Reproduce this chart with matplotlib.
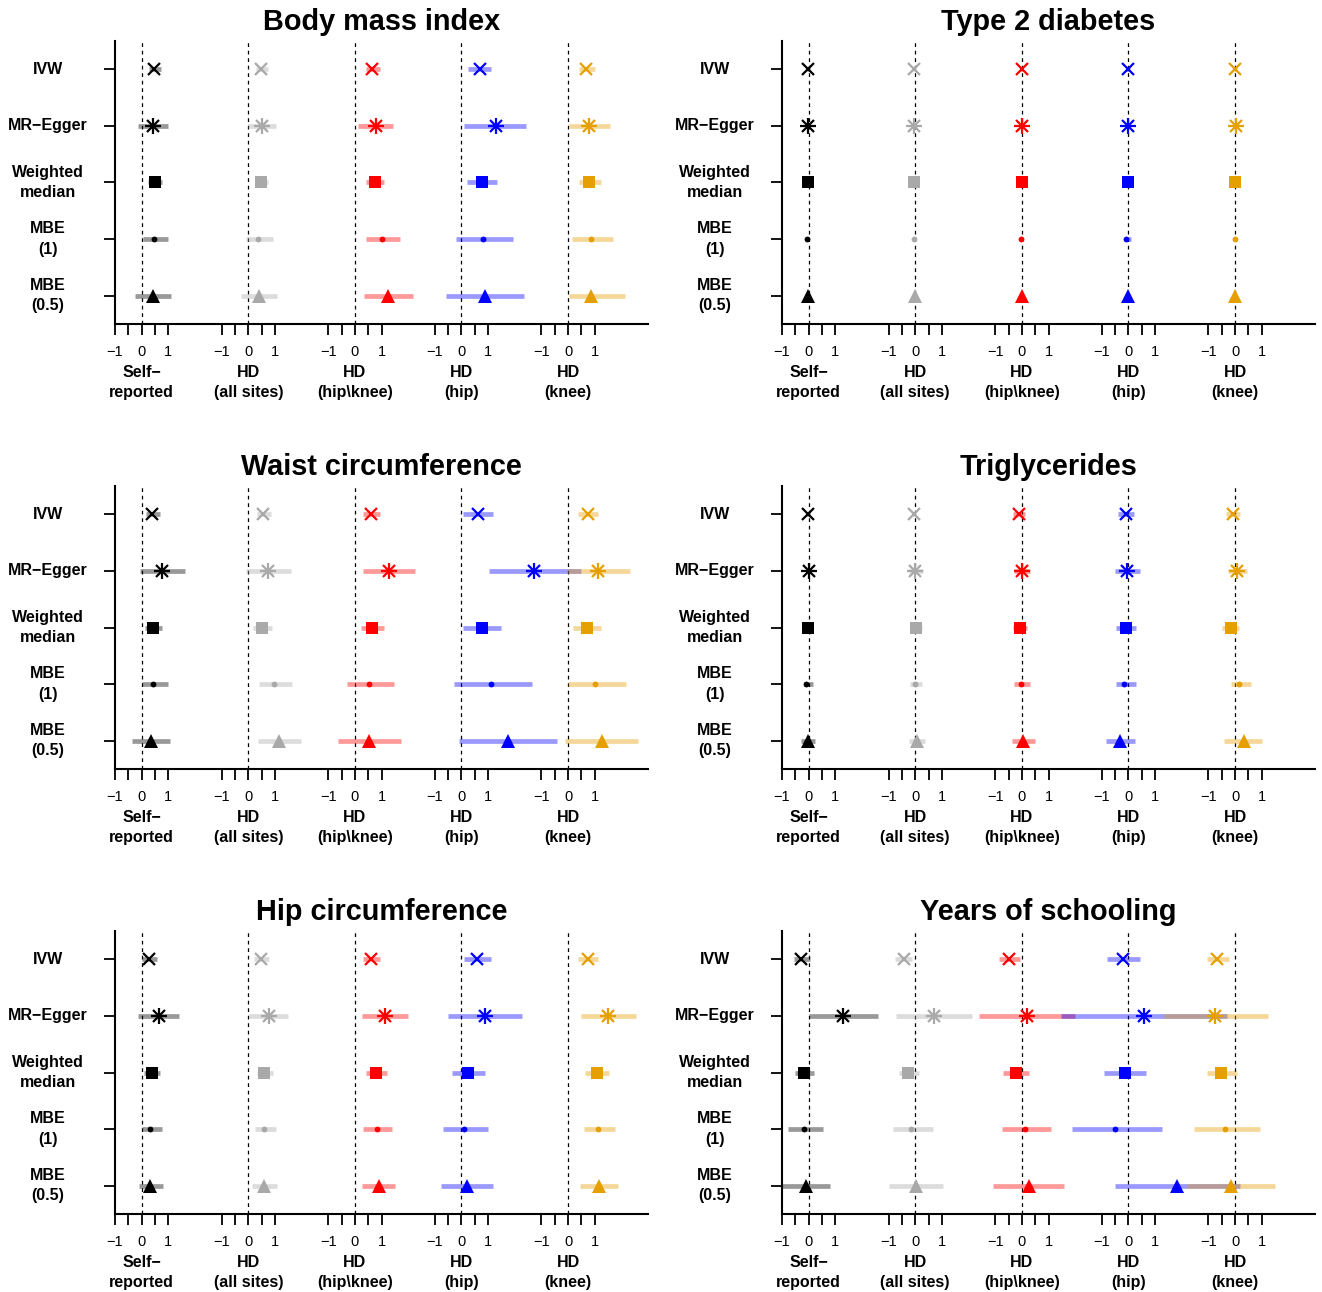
import numpy as np
import matplotlib
matplotlib.use("Agg")
import matplotlib.pyplot as plt
import matplotlib.transforms as mtransforms

plt.rcParams["font.family"] = ["Liberation Sans", "DejaVu Sans"]

methods = ["IVW", "MR\u2212Egger", "Weighted\nmedian", "MBE\n(1)", "MBE\n(0.5)"]
groups = ["Self\u2212\nreported", "HD\n(all sites)", "HD\n(hip\\knee)", "HD\n(hip)", "HD\n(knee)"]
group_colors = ["black", "darkgray", "red", "blue", "#E69F00"]

# rows = methods (IVW, MR-Egger, WM, MBE(1), MBE(0.5)); columns = groups
bmi_est = [[0.47, 0.49, 0.63, 0.69, 0.68],
           [0.43, 0.52, 0.79, 1.28, 0.80],
           [0.50, 0.47, 0.76, 0.76, 0.80],
           [0.46, 0.36, 1.00, 0.80, 0.87],
           [0.43, 0.39, 1.26, 0.88, 0.87]]
bmi_lo = [[0.27, 0.28, 0.43, 0.25, 0.41],
          [-0.13, 0.00, 0.13, 0.09, 0.05],
          [0.24, 0.24, 0.43, 0.20, 0.41],
          [0.06, -0.08, 0.41, -0.19, 0.13],
          [-0.24, -0.27, 0.35, -0.59, 0.03]]
bmi_hi = [[0.74, 0.73, 0.95, 1.12, 1.00],
          [1.00, 1.04, 1.45, 2.42, 1.58],
          [0.78, 0.73, 1.10, 1.33, 1.23],
          [0.98, 0.93, 1.71, 1.94, 1.70],
          [1.09, 1.07, 2.17, 2.33, 2.13]]

t2d_est = [[-0.02, -0.03, 0.00, -0.01, 0.00],
           [-0.03, -0.03, -0.01, -0.02, 0.02],
           [-0.02, -0.03, 0.00, -0.03, 0.01],
           [-0.06, -0.05, -0.02, -0.08, -0.02],
           [-0.02, -0.02, 0.01, -0.03, 0.01]]
t2d_lo = [[-0.08, -0.09, -0.06, -0.08, -0.06],
          [-0.10, -0.10, -0.08, -0.10, -0.06],
          [-0.07, -0.08, -0.05, -0.08, -0.05],
          [-0.10, -0.10, -0.07, -0.12, -0.07],
          [-0.08, -0.08, -0.06, -0.09, -0.06]]
t2d_hi = [[0.04, 0.03, 0.06, 0.06, 0.06],
          [0.04, 0.04, 0.06, 0.06, 0.09],
          [0.03, 0.02, 0.05, 0.02, 0.07],
          [0.00, 0.02, 0.04, 0.10, 0.05],
          [0.04, 0.04, 0.08, 0.04, 0.08]]

waist_est = [[0.40, 0.54, 0.62, 0.63, 0.76],
             [0.78, 0.75, 1.27, 2.74, 1.14],
             [0.44, 0.51, 0.64, 0.76, 0.71],
             [0.44, 0.95, 0.52, 1.12, 1.03],
             [0.36, 1.16, 0.54, 1.74, 1.27]]
waist_lo = [[0.16, 0.31, 0.29, 0.07, 0.39],
            [-0.07, -0.09, 0.29, 1.04, -0.04],
            [0.13, 0.17, 0.23, 0.07, 0.20],
            [0.00, 0.39, -0.31, -0.27, 0.00],
            [-0.35, 0.35, -0.64, -0.11, -0.11]]
waist_hi = [[0.70, 0.84, 0.95, 1.20, 1.14],
            [1.61, 1.61, 2.26, 4.48, 2.34],
            [0.78, 0.88, 1.09, 1.50, 1.23],
            [1.00, 1.65, 1.46, 2.65, 2.17],
            [1.07, 1.98, 1.73, 3.60, 2.61]]

trig_est = [[-0.04, -0.06, -0.09, -0.09, -0.09],
            [0.00, 0.00, 0.00, -0.04, 0.06],
            [-0.04, 0.04, -0.06, -0.10, -0.17],
            [-0.09, 0.00, -0.05, -0.15, 0.14],
            [-0.04, 0.06, 0.05, -0.32, 0.32]]
trig_lo = [[-0.10, -0.12, -0.32, -0.39, -0.35],
           [-0.10, -0.23, -0.30, -0.52, -0.28],
           [-0.10, -0.13, -0.32, -0.48, -0.48],
           [-0.19, -0.19, -0.30, -0.48, -0.15],
           [-0.30, -0.22, -0.36, -0.84, -0.41]]
trig_hi = [[0.05, 0.02, 0.13, 0.22, 0.17],
           [0.10, 0.28, 0.32, 0.43, 0.45],
           [0.05, 0.26, 0.19, 0.27, 0.14],
           [0.15, 0.26, 0.30, 0.27, 0.58],
           [0.23, 0.37, 0.48, 0.23, 1.03]]

hip_est = [[0.29, 0.48, 0.62, 0.58, 0.74],
           [0.64, 0.78, 1.12, 0.87, 1.50],
           [0.37, 0.60, 0.80, 0.23, 1.07],
           [0.33, 0.58, 0.82, 0.08, 1.14],
           [0.33, 0.60, 0.90, 0.20, 1.16]]
hip_lo = [[0.03, 0.20, 0.29, 0.11, 0.36],
          [-0.13, 0.04, 0.28, -0.51, 0.47],
          [0.07, 0.31, 0.43, -0.37, 0.63],
          [0.03, 0.24, 0.32, -0.71, 0.60],
          [-0.11, 0.13, 0.28, -0.76, 0.43]]
hip_hi = [[0.56, 0.78, 0.95, 1.10, 1.12],
          [1.40, 1.51, 1.99, 2.27, 2.54],
          [0.67, 0.91, 1.19, 0.87, 1.54],
          [0.76, 1.04, 1.39, 1.00, 1.77],
          [0.79, 1.07, 1.52, 1.18, 1.86]]

school_est = [[-0.28, -0.43, -0.49, -0.19, -0.67],
              [1.29, 0.71, 0.19, 0.58, -0.74],
              [-0.19, -0.26, -0.23, -0.13, -0.52],
              [-0.17, -0.15, 0.10, -0.49, -0.36],
              [-0.09, 0.03, 0.26, 1.83, -0.15]]
school_lo = [[-0.55, -0.75, -0.86, -0.81, -1.06],
             [0.03, -0.71, -1.59, -2.54, -2.67],
             [-0.52, -0.62, -0.71, -0.90, -1.06],
             [-0.77, -0.84, -0.75, -2.13, -1.55],
             [-0.99, -0.99, -1.07, -0.52, -1.81]]
school_hi = [[0.04, -0.13, -0.06, 0.45, -0.22],
             [2.61, 2.13, 2.00, 3.68, 1.23],
             [0.19, 0.15, 0.26, 0.67, 0.09],
             [0.55, 0.65, 1.10, 1.26, 0.94],
             [0.81, 1.06, 1.57, 4.19, 1.51]]

panels = [
    ("Body mass index", bmi_est, bmi_lo, bmi_hi),
    ("Type 2 diabetes", t2d_est, t2d_lo, t2d_hi),
    ("Waist circumference", waist_est, waist_lo, waist_hi),
    ("Triglycerides", trig_est, trig_lo, trig_hi),
    ("Hip circumference", hip_est, hip_lo, hip_hi),
    ("Years of schooling", school_est, school_lo, school_hi),
]

W, H = 1322, 1292
fig = plt.figure(figsize=(W / 100, H / 100), dpi=100)

col_left = [115, 782]
row_top = [41, 486, 931]
ax_w, ax_h = 533, 283

offsets = np.arange(5) * 4
row_y = [5, 4, 3, 2, 1]


def draw_marker(ax, m, x, y, color):
    if m == 0:
        ax.plot(x, y, "x", color=color, ms=9, mew=1.6, zorder=4)
    elif m == 1:
        ax.plot(x, y, "x", color=color, ms=9, mew=1.6, zorder=4)
        ax.plot(x, y, "+", color=color, ms=12, mew=1.6, zorder=4)
    elif m == 2:
        ax.plot(x, y, "s", color=color, ms=8, mew=0, zorder=4)
    elif m == 3:
        ax.plot(x, y, "o", color=color, ms=4.2, mew=0, zorder=4)
    else:
        ax.plot(x, y, "^", color=color, ms=10, mew=0, zorder=4)


for i, (title, est, lo, hi) in enumerate(panels):
    r, c = divmod(i, 2)
    left = col_left[c] / W
    bottom = 1 - (row_top[r] + ax_h) / H
    ax = fig.add_axes([left, bottom, ax_w / W, ax_h / H])
    ax.set_xlim(-1, 19)
    ax.set_ylim(0.5, 5.5)

    for g in range(5):
        ax.axvline(offsets[g], color="black", lw=0.9, ls=(0, (3, 3)), zorder=1)

    est = np.array(est)
    lo = np.array(lo)
    hi = np.array(hi)
    for g in range(5):
        for m in range(5):
            ax.plot([offsets[g] + lo[m, g], offsets[g] + hi[m, g]], [row_y[m], row_y[m]],
                    color=group_colors[g], alpha=0.4, lw=3.4, solid_capstyle="butt", zorder=2)
    for g in range(5):
        for m in range(5):
            draw_marker(ax, m, offsets[g] + est[m, g], row_y[m], group_colors[g])

    for side in ["top", "right"]:
        ax.spines[side].set_visible(False)
    for side in ["left", "bottom"]:
        ax.spines[side].set_linewidth(1.5)

    xt = np.concatenate([o + np.array([-1, -0.5, 0, 0.5, 1]) for o in offsets])
    xl = []
    for o in offsets:
        xl += ["\u22121", "", "0", "", "1"]
    ax.set_xticks(xt)
    ax.set_xticklabels(xl, fontsize=10.5)
    ax.tick_params(axis="x", length=8, width=1.3, pad=7)

    ax.set_yticks(row_y)
    ax.set_yticklabels([])
    ax.tick_params(axis="y", length=8, width=1.3)

    trans = mtransforms.blended_transform_factory(ax.transAxes, ax.transData)
    for m in range(5):
        ax.text(-0.126, row_y[m], methods[m], transform=trans, ha="center", va="center",
                fontsize=11.5, fontweight="bold", linespacing=1.45)

    trans_x = mtransforms.blended_transform_factory(ax.transData, ax.transAxes)
    for g in range(5):
        ax.text(offsets[g], -0.206, groups[g], transform=trans_x, ha="center", va="center",
                fontsize=11.5, fontweight="bold", linespacing=1.45)

    ax.text(0.5, 1.067, title, transform=ax.transAxes, ha="center", va="center",
            fontsize=20.8, fontweight="bold")

fig.savefig("out.png", dpi=100)
